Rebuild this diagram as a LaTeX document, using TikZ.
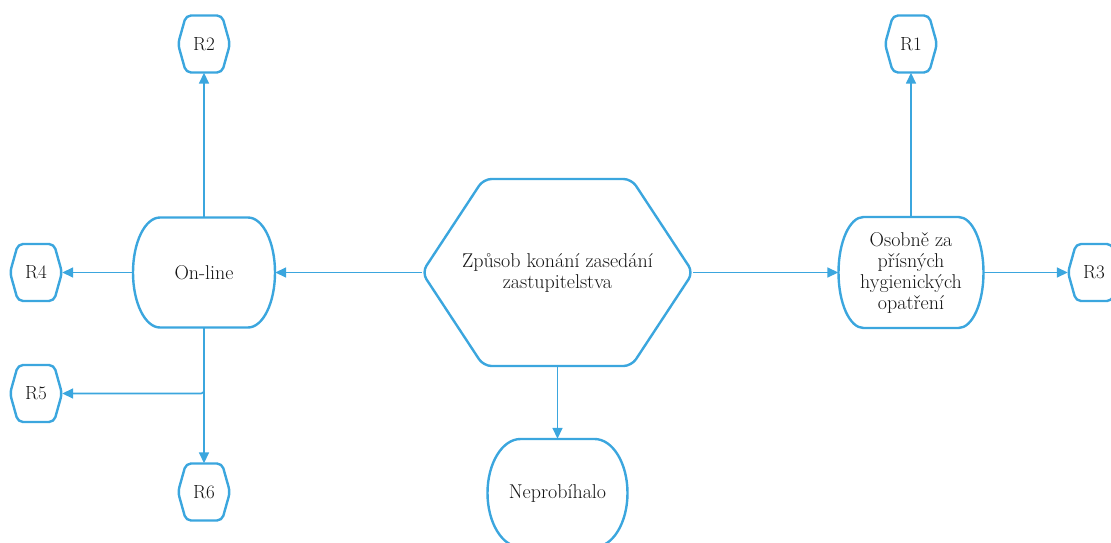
\documentclass[tikz,border=0pt]{standalone}
\usepackage{fontspec}
\usetikzlibrary{arrows.meta}
\definecolor{flowblue}{HTML}{3BA6DE}
\definecolor{txtgray}{HTML}{141414}
\tikzset{
  shapeline/.style={draw=flowblue, line width=2.4pt, line join=round},
  holder/.style={draw=none, inner sep=0pt, align=center, text=txtgray,
    font=\fontsize{20}{21}\selectfont},
  smalltext/.style={font=\fontsize{19}{21}\selectfont},
  conn/.style={draw=flowblue, line width=1.6pt,
    -{Triangle[length=11pt,width=10pt]}},
}
\newcommand\hexsmall[1]{%
  \draw[shapeline, rounded corners=5pt, shift={(#1.center)}]
    (-26,0) -- (-18,-28.5) -- (18,-28.5) -- (26,0) -- (18,28.5) -- (-18,28.5) -- cycle;}
\newcommand\softbox[4]{% name, half width, half height, inset
  \draw[shapeline, shift={(#1.center)}]
    (-#2+#4,-#3) -- (#2-#4,-#3)
    .. controls (#2-#4*0.448,-#3) and (#2,-#3*0.552) .. (#2,0)
    .. controls (#2,#3*0.552) and (#2-#4*0.448,#3) .. (#2-#4,#3)
    -- (-#2+#4,#3)
    .. controls (-#2+#4*0.448,#3) and (-#2,#3*0.552) .. (-#2,0)
    .. controls (-#2,-#3*0.552) and (-#2+#4*0.448,-#3) .. cycle;}
\begin{document}
\begin{tikzpicture}[x=1pt,y=-1pt]
\useasboundingbox (0,0) rectangle (1111,543);
% nodes
\node[holder, minimum width=271pt, minimum height=187pt] (c) at (557.5,272.5)
  {Způsob konání zasedání\\zastupitelstva};
\node[holder, minimum width=142pt, minimum height=110pt] (on) at (204,272.5) {On-line};
\node[holder, minimum width=145pt, minimum height=111pt] (os) at (911,272.5)
  {Osobně za\\přísných\\hygienických\\opatření};
\node[holder, minimum width=140pt, minimum height=108pt] (ne) at (557.5,493) {Neprobíhalo};
\node[holder, smalltext, minimum width=52pt, minimum height=57pt] (r1) at (911,44) {R1};
\node[holder, smalltext, minimum width=52pt, minimum height=57pt] (r2) at (204,44) {R2};
\node[holder, smalltext, minimum width=52pt, minimum height=57pt] (r3) at (1094,272.5) {R3};
\node[holder, smalltext, minimum width=52pt, minimum height=57pt] (r4) at (36,272.5) {R4};
\node[holder, smalltext, minimum width=52pt, minimum height=57pt] (r5) at (36,393.5) {R5};
\node[holder, smalltext, minimum width=52pt, minimum height=57pt] (r6) at (204,492) {R6};
% shapes
\draw[shapeline, rounded corners=8pt, shift={(c.center)}]
  (-135.5,0) -- (-74,-93.5) -- (74,-93.5) -- (135.5,0) -- (74,93.5) -- (-74,93.5) -- cycle;
\softbox{on}{71}{55}{27}
\softbox{os}{72.5}{55.5}{25}
\softbox{ne}{70}{54}{33}
\hexsmall{r1}\hexsmall{r2}\hexsmall{r3}\hexsmall{r4}\hexsmall{r5}\hexsmall{r6}
% connectors
\draw[conn] (c.west) -- (on.east);
\draw[conn] (c.east) -- (os.west);
\draw[conn] (c.south) -- (ne.north);
\draw[conn] (on.north) -- (r2.south);
\draw[conn] (on.west) -- (r4.east);
\draw[conn] (on.south) -- (r6.north);
\draw[conn, rounded corners=3pt] (on.south) |- (r5.east);
\draw[conn] (os.north) -- (r1.south);
\draw[conn] (os.east) -- (r3.west);
\end{tikzpicture}
\end{document}
